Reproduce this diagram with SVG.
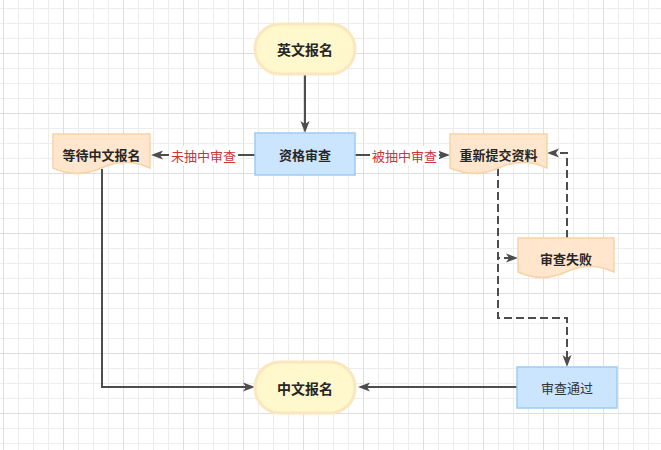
<svg xmlns="http://www.w3.org/2000/svg" width="661" height="450" viewBox="0 0 661 450">
  <defs>
    <pattern id="grid" patternUnits="userSpaceOnUse" x="3" y="-7" width="60" height="60">
      <rect width="60" height="60" fill="#ffffff"/>
      <g fill="#ededed">
        <rect x="15" y="0" width="1" height="60"/>
        <rect x="30" y="0" width="1" height="60"/>
        <rect x="45" y="0" width="1" height="60"/>
        <rect x="0" y="15" width="60" height="1"/>
        <rect x="0" y="30" width="60" height="1"/>
        <rect x="0" y="45" width="60" height="1"/>
      </g>
      <g fill="#dedede">
        <rect x="0" y="0" width="1" height="60"/>
        <rect x="0" y="0" width="60" height="1"/>
      </g>
    </pattern>
    <marker id="arrow" markerUnits="userSpaceOnUse" markerWidth="12" markerHeight="9" refX="3" refY="4.5" orient="auto" overflow="visible">
      <path d="M0,0 L12,4.5 L0,9 L3,4.5 Z" fill="#4d4d4d"/>
    </marker>
  </defs>
  <style>
    .pill { fill: #fff8cc; stroke: #fce6bd; stroke-width: 3; }
    .proc { fill: #cce5ff; stroke: #9ccbf6; stroke-width: 1.5; }
    .doc { fill: #ffe6cc; stroke: #f8d3a6; stroke-width: 1.5; }
    .lbl { font-family: "Noto Sans CJK SC", "Liberation Sans", sans-serif; font-size: 13px; font-weight: bold; fill: #262626; text-anchor: middle; dominant-baseline: central; }
    .big { font-size: 14px; }
    .thin { font-weight: normal; fill: #333333; }
    .edge { fill: none; stroke: #4d4d4d; stroke-width: 2; marker-end: url(#arrow); }
    .dash { stroke-dasharray: 8 4; }
    .elbl { font-family: "Noto Sans CJK SC", "Liberation Sans", sans-serif; font-size: 13px; fill: #c83737; text-anchor: middle; dominant-baseline: central; }
  </style>
  <rect width="661" height="450" fill="url(#grid)"/>

  <g id="connectors">
    <path class="edge" d="M305,74 V124"/>
    <path class="edge" d="M255,155 H160"/>
    <path class="edge" d="M355,155 H441"/>
    <path class="edge" d="M102,169 V387 H246"/>
    <path class="edge" d="M517,387 H367"/>
    <path class="edge dash" d="M498,168 V258 H509"/>
    <path class="edge dash" d="M498,168 V318 H567 V358"/>
    <path class="edge dash" d="M567,238 V153 H556"/>
    <g id="label-weichou">
      <rect x="169" y="146" width="69" height="19" fill="#ffffff"/>
      <text class="elbl" x="203.5" y="155.5">未抽中审查</text>
    </g>
    <g id="label-beichou">
      <rect x="370" y="146" width="69" height="19" fill="#ffffff"/>
      <text class="elbl" x="404.5" y="155.5">被抽中审查</text>
    </g>
  </g>

  <g id="node-yingwen">
    <rect class="pill" x="255" y="24" width="100" height="50" rx="25" ry="25"/>
    <text class="lbl big" x="305" y="49">英文报名</text>
  </g>
  <g id="node-zige">
    <rect class="proc" x="255" y="133" width="100" height="42"/>
    <text class="lbl" x="305" y="154">资格审查</text>
  </g>
  <g id="node-dengdai">
    <path class="doc" d="M53,134 H150 V168 Q125.75,157.2 101.5,168 Q77.25,178.8 53,168 Z"/>
    <text class="lbl" x="101.5" y="154">等待中文报名</text>
  </g>
  <g id="node-chongxin">
    <path class="doc" d="M450,134 H547 V168 Q522.75,157.2 498.5,168 Q474.25,178.8 450,168 Z"/>
    <text class="lbl" x="498.5" y="154">重新提交资料</text>
  </g>
  <g id="node-shibai">
    <path class="doc" d="M518,238 H614 V272 Q590,261.2 566,272 Q542,282.8 518,272 Z"/>
    <text class="lbl" x="566" y="258">审查失败</text>
  </g>
  <g id="node-zhongwen">
    <rect class="pill" x="255" y="362" width="100" height="51" rx="25" ry="25"/>
    <text class="lbl big" x="305" y="387.5">中文报名</text>
  </g>
  <g id="node-tongguo">
    <rect class="proc" x="517" y="367" width="100" height="41"/>
    <text class="lbl thin" x="567" y="387.5">审查通过</text>
  </g>
</svg>
